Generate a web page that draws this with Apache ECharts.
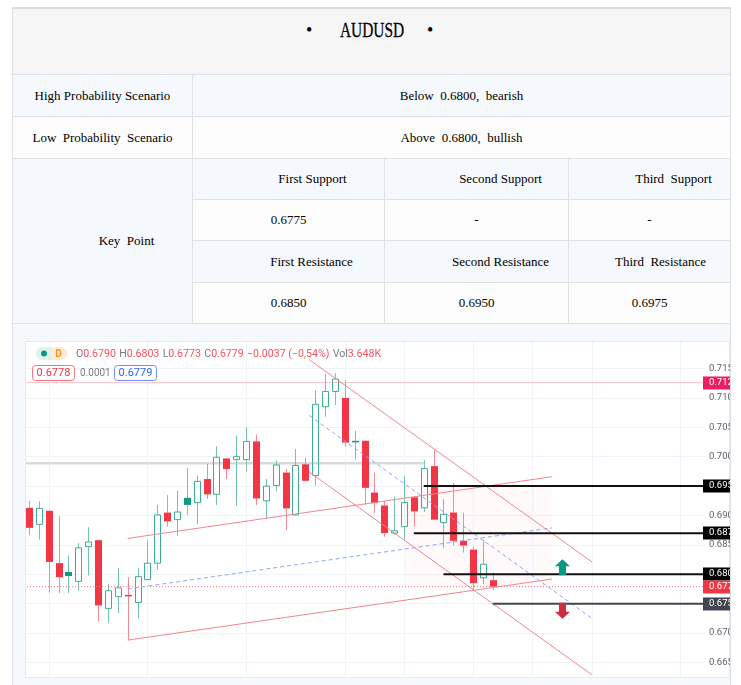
<!DOCTYPE html>
<html><head><meta charset="utf-8">
<script src="https://cdn.jsdelivr.net/npm/echarts@6.0.0/dist/echarts.min.js"></script>
<style>
html,body{margin:0;padding:0}
body{width:741px;height:685px;overflow:hidden;position:relative;background:#fff;font-family:'Liberation Serif','Times New Roman',serif;color:#000}
.cell{position:absolute;box-sizing:border-box;display:flex;align-items:center;justify-content:center;font-size:13px;white-space:pre;border-right:1px solid #dde1e6;border-bottom:1px solid #dde1e6}
.b{background:#f5f8fc}
.w{background:#fcfcfc}
</style></head><body>
<div style="position:absolute;left:12px;top:7px;width:719px;height:678px;border-top:2px solid #dcdcdc;border-left:1px solid #dde1e6;box-sizing:border-box"></div>
<div class="cell" style="left:13px;top:9px;width:718px;height:66px;background:#f6f6f6"></div>
<div style="position:absolute;left:306px;top:16px;font-size:18px;line-height:28px">•</div>
<div style="position:absolute;left:427px;top:16px;font-size:18px;line-height:28px">•</div>
<div style="position:absolute;left:272px;top:15px;width:200px;text-align:center;font-size:22px;line-height:30px;transform:scaleX(0.7);transform-origin:50% 50%;-webkit-text-stroke:0.3px #000">AUDUSD</div>

<div class="cell b" style="left:13px;top:75px;width:180px;height:42px">High Probability Scenario</div>
<div class="cell b" style="left:193px;top:75px;width:538px;height:42px">Below  0.6800,  bearish</div>
<div class="cell w" style="left:13px;top:117px;width:180px;height:42px">Low  Probability  Scenario</div>
<div class="cell w" style="left:193px;top:117px;width:538px;height:42px">Above  0.6800,  bullish</div>
<div class="cell b" style="left:13px;top:159px;width:180px;height:165px;padding-left:48px">Key  Point</div>

<div class="cell b" style="left:193px;top:159px;width:192px;height:41px;padding-left:48px">First Support</div>
<div class="cell b" style="left:385px;top:159px;width:184px;height:41px;padding-left:48px">Second Support</div>
<div class="cell b" style="left:569px;top:159px;width:162px;height:41px;padding-left:48px">Third  Support</div>
<div class="cell w" style="left:193px;top:200px;width:192px;height:41px">0.6775</div>
<div class="cell w" style="left:385px;top:200px;width:184px;height:41px">-</div>
<div class="cell w" style="left:569px;top:200px;width:162px;height:41px">-</div>
<div class="cell b" style="left:193px;top:241px;width:192px;height:42px;padding-left:46px">First Resistance</div>
<div class="cell b" style="left:385px;top:241px;width:184px;height:42px;padding-left:48px">Second Resistance</div>
<div class="cell b" style="left:569px;top:241px;width:162px;height:42px;padding-left:22px">Third  Resistance</div>
<div class="cell w" style="left:193px;top:283px;width:192px;height:41px">0.6850</div>
<div class="cell w" style="left:385px;top:283px;width:184px;height:41px">0.6950</div>
<div class="cell w" style="left:569px;top:283px;width:162px;height:41px">0.6975</div>

<div style="position:absolute;left:13px;top:324px;width:718px;height:361px;background:#f5f8fc;border-right:1px solid #dde1e6;box-sizing:border-box"></div>
<div style="position:absolute;left:25px;top:341px;width:705px;height:337px;background:#fff;border:1px solid #e6e9ef;box-sizing:border-box"></div>
<div style="position:absolute;left:26px;top:342px;width:704px;height:335px;overflow:hidden">
  <div id="chart" style="position:absolute;left:-26px;top:-342px;width:741px;height:700px"></div>
</div>

<script>
// ---- candle data (bar index = position) ----
const opens  = [0.6913,0.6885,0.6908,0.6819,0.6804,0.6788,0.6847,0.6858,0.6742,0.6762,
                0.6765,0.6752,0.6791,0.6819,0.6905,0.6893,0.6930,0.6922,0.6962,0.6936,
                0.6997,0.6995,0.6995,0.7026,0.6925,0.6951,0.6973,0.6901,0.6987,0.6968,
                0.7085,0.7111,0.7100,0.7027,0.7027,0.6939,0.6917,0.6870,0.6881,0.6931,
                0.6913,0.6984,0.6888,0.6905,0.6857,0.6842,0.6794,0.6790];
const highs  = [0.6925,0.6924,0.6909,0.6899,0.6832,0.6853,0.6880,0.6859,0.6784,0.6811,
                0.6795,0.6811,0.6858,0.6918,0.6935,0.6942,0.6981,0.6968,0.6988,0.7018,
                0.6998,0.7036,0.7050,0.7038,0.6962,0.6994,0.6979,0.7013,0.6998,0.7113,
                0.7141,0.7142,0.7130,0.7044,0.7028,0.6973,0.6925,0.6932,0.6967,0.6933,
                0.6994,0.7013,0.6928,0.6956,0.6905,0.6847,0.6858,0.6803];
const lows   = [0.6867,0.6859,0.6769,0.6768,0.6768,0.6772,0.6798,0.6720,0.6717,0.6734,
                0.6688,0.6725,0.6790,0.6808,0.6881,0.6865,0.6901,0.6885,0.6928,0.6918,
                0.6962,0.6916,0.6975,0.6918,0.6894,0.6941,0.6875,0.6900,0.6958,0.6951,
                0.7068,0.7088,0.7017,0.6995,0.6918,0.6904,0.6864,0.6867,0.6859,0.6881,
                0.6906,0.6892,0.6844,0.6849,0.6837,0.6773,0.6783,0.6773];
const closes = [0.6879,0.6912,0.6821,0.6795,0.6797,0.6845,0.6855,0.6747,0.6772,0.6777,
                0.6763,0.6796,0.6819,0.6901,0.6890,0.6906,0.6918,0.6958,0.6936,0.6999,
                0.6979,0.7000,0.7026,0.6929,0.6950,0.6986,0.6912,0.6985,0.6959,0.7089,
                0.7111,0.7132,0.7024,0.7025,0.6947,0.6921,0.6870,0.6874,0.6922,0.6907,
                0.6980,0.6893,0.6902,0.6857,0.6849,0.6785,0.6817,0.6779];

// ---- axis ----
const barSlots = 69;            // bars visible incl. empty future space
const priceMin = 0.660, priceMax = 0.720, priceStep = 0.005;
const dateGridBars = [2, 12, 22, 32, 38, 45, 51, 57, 66];

// ---- drawings (bar index, price) ----
const ascUpper = [[10, 0.6861], [53, 0.6966]];
const ascLower = [[10, 0.6688], [53, 0.6792]];
const ascMid   = [[10, 0.6775], [53, 0.6879]];
const descUpper = [[28.4, 0.7165], [57.05, 0.6821]];
const descLower = [[28.4, 0.6974], [57.05, 0.6629]];
const descMid   = [[28.4, 0.7070], [57.05, 0.6725]];
const grayLevel = 0.6989, grayFrom = -1, grayTo = 40;
const highLevel = 0.7126;
const lastPrice = 0.6779;
const resistanceLevels = [0.6950, 0.6870, 0.6800];
const resistanceFrom   = [40, 39, 42];
const supportLevel = 0.6750, supportFrom = 47;
const zoneBars = [38, 53], zonePrices = [0.6952, 0.6779];
const upArrow = [54.06, 0.6812];
const downArrow = [54.06, 0.6738];

const kinds = closes.map((c, i) => c > opens[i] ? 0 : (i > 0 && c > closes[i - 1] ? 1 : 2));
const candleData = opens.map((o, i) => [i, o, closes[i], lows[i], highs[i], kinds[i]]);

const GREEN = '#3fae90', GREEN_WICK = '#72c4ad', GREEN_FILL = '#0f9b7f';
const RED = '#f23645', RED_WICK = '#f58a94';

function renderCandle(params, api) {
  const i = api.value(0), o = api.value(1), c = api.value(2), l = api.value(3), h = api.value(4), k = api.value(5);
  const pO = api.coord([i, o]), pC = api.coord([i, c]), pL = api.coord([i, l]), pH = api.coord([i, h]);
  const cx = Math.round(pO[0]) + 0.5;
  const bw = Math.round(api.size([1, 0])[0] * 0.7);
  const top = Math.min(pO[1], pC[1]), bot = Math.max(pO[1], pC[1]);
  const wick = k === 2 ? RED_WICK : GREEN_WICK;
  const ch = [
    {type: 'line', shape: {x1: cx, y1: pH[1], x2: cx, y2: top}, style: {stroke: wick, lineWidth: 1}},
    {type: 'line', shape: {x1: cx, y1: bot, x2: cx, y2: pL[1]}, style: {stroke: wick, lineWidth: 1}}
  ];
  if (k === 0) {
    ch.push({type: 'rect', shape: {x: cx - bw / 2 + 0.5, y: top, width: bw - 1, height: Math.max(bot - top, 1)},
      style: {fill: 'rgba(0,0,0,0)', stroke: GREEN, lineWidth: 1}});
  } else {
    const col = k === 1 ? GREEN_FILL : RED;
    ch.push({type: 'rect', shape: {x: cx - bw / 2, y: top, width: bw, height: Math.max(bot - top, 1.5)},
      style: {fill: col}});
  }
  return {type: 'group', children: ch};
}

function seg(pts, color, width, type, z) {
  return {type: 'line', data: pts, symbol: 'none', silent: true, animation: false, clip: true,
    lineStyle: {color: color, width: width, type: type || 'solid'}, z: z || 5};
}

const tagPrices = [highLevel, resistanceLevels[0], resistanceLevels[1], resistanceLevels[2], lastPrice, supportLevel];
const tagColors = ['#e91e63', '#000000', '#000000', '#000000', '#f23645', '#434651'];

const chart = echarts.init(document.getElementById('chart'));
chart.setOption({
  animation: false,
  grid: {left: 24, top: 339.1, width: 681, height: 352.8, containLabel: false, outerBoundsMode: 'none'},
  xAxis: {type: 'value', min: -0.5, max: barSlots - 0.5, show: false},
  yAxis: {type: 'value', position: 'right', min: priceMin, max: priceMax, interval: priceStep, scale: true,
    axisLine: {show: false}, axisTick: {show: false},
    splitLine: {lineStyle: {color: '#f0f3fa', width: 1}},
    axisLabel: {margin: 4, color: '#5d606b', fontSize: 9.5, fontFamily: 'Roboto',
      showMinLabel: false, showMaxLabel: false, formatter: v => v.toFixed(5)}},
  graphic: [
    {type: 'rect', shape: {x: 36, y: 347, width: 31, height: 13, r: 6.5}, style: {fill: '#e1f2ed'}, z: 50},
    {type: 'rect', shape: {x: 51, y: 347, width: 16, height: 13, r: [0, 6.5, 6.5, 0]}, style: {fill: '#fdebd3'}, z: 51},
    {type: 'circle', shape: {cx: 44, cy: 353.5, r: 3}, style: {fill: '#089981'}, z: 52},
    {type: 'text', x: 58.5, y: 354, z: 52, style: {text: 'D', fill: '#f7931a', font: 'bold 10px Roboto', align: 'center', verticalAlign: 'middle'}},
    {type: 'text', x: 76, y: 354, z: 52, style: {
      text: '{g|O}{r|0.6790} {g|H}{r|0.6803} {g|L}{r|0.6773} {g|C}{r|0.6779} {r|\u22120.0037 (\u22120,54%)} {g|Vol}{r|3.648K}',
      verticalAlign: 'middle',
      rich: {g: {fill: '#787b86', fontSize: 10.6, fontFamily: 'Roboto'}, r: {fill: '#f7525f', fontSize: 10.6, fontFamily: 'Roboto'}}}},
    {type: 'rect', shape: {x: 32.5, y: 365.5, width: 42, height: 15, r: 3}, style: {fill: '#fff', stroke: '#f7737d', lineWidth: 1}, z: 50},
    {type: 'text', x: 53.5, y: 373.5, z: 52, style: {text: '0.6778', fill: '#f23645', font: '11px Roboto', align: 'center', verticalAlign: 'middle'}},
    {type: 'text', x: 80, y: 373.5, z: 52, style: {text: '0.0001', fill: '#787b86', font: '10px Roboto', verticalAlign: 'middle'}},
    {type: 'rect', shape: {x: 114.5, y: 365.5, width: 42, height: 15, r: 3}, style: {fill: '#fff', stroke: '#6a8ef7', lineWidth: 1}, z: 50},
    {type: 'text', x: 135.5, y: 373.5, z: 52, style: {text: '0.6779', fill: '#2962ff', font: '11px Roboto', align: 'center', verticalAlign: 'middle'}}
  ],
  series: [
    {type: 'custom', silent: true, z: 1, clip: true, data: dateGridBars.map(b => [b, priceMax]),
      renderItem: (params, api) => {
        const x = Math.round(api.coord([api.value(0), api.value(1)])[0]) + 0.5;
        const cs = params.coordSys;
        return {type: 'line', shape: {x1: x, y1: cs.y, x2: x, y2: cs.y + cs.height}, style: {stroke: '#f0f3fa', lineWidth: 1}};
      }},
    {type: 'line', data: [], silent: true, z: 1,
      markArea: {silent: true, itemStyle: {color: 'rgba(242,54,69,0.03)'},
        data: [[{coord: [zoneBars[0], zonePrices[0]]}, {coord: [zoneBars[1], zonePrices[1]]}]]}},
    seg([[-0.5, highLevel], [barSlots, highLevel]], '#f9c3ca', 1, 'solid', 2),
    seg([[grayFrom, grayLevel], [grayTo, grayLevel]], '#d8d9dc', 2.5, 'solid', 2),
    {type: 'custom', renderItem: renderCandle, data: candleData, z: 3, clip: true, silent: true},
    seg(ascUpper, '#f4848e', 1),
    seg(ascLower, '#f4848e', 1),
    seg(ascMid, '#8ba6f6', 1, [4, 3]),
    seg(descUpper, '#f4848e', 1),
    seg(descLower, '#f4848e', 1),
    seg(descMid, '#8ba6f6', 1, [4, 3]),
    seg([[-0.5, lastPrice], [barSlots, lastPrice]], '#f5727d', 1, [1, 2], 4),
    seg([[resistanceFrom[0], resistanceLevels[0]], [barSlots, resistanceLevels[0]]], '#111', 2, 'solid', 6),
    seg([[resistanceFrom[1], resistanceLevels[1]], [barSlots, resistanceLevels[1]]], '#111', 2, 'solid', 6),
    seg([[resistanceFrom[2], resistanceLevels[2]], [barSlots, resistanceLevels[2]]], '#111', 2, 'solid', 6),
    seg([[supportFrom, supportLevel], [barSlots, supportLevel]], '#434651', 2, 'solid', 6),
    {type: 'scatter', silent: true, z: 7, data: [upArrow], symbolSize: [15, 16],
      symbol: 'path://M7.5,0 L15,7 L11,7 L11,16 L4,16 L4,7 L0,7 Z', itemStyle: {color: '#089981', opacity: 1}},
    {type: 'scatter', silent: true, z: 7, data: [downArrow], symbolSize: [15, 16],
      symbol: 'path://M4,0 L11,0 L11,9 L15,9 L7.5,16 L0,9 L4,9 Z', itemStyle: {color: '#d12c3b', opacity: 1}},
    {type: 'custom', silent: true, z: 20, clip: false, data: tagPrices.map((p, k) => [k, p]),
      renderItem: (params, api) => {
        const p = api.value(1);
        const y = api.coord([0, p])[1];
        return {type: 'group', children: [
          {type: 'rect', shape: {x: 703, y: Math.round(y) - 6.5, width: 40, height: 13}, style: {fill: tagColors[params.dataIndex]}},
          {type: 'text', x: 709, y: Math.round(y), style: {text: p.toFixed(5), fill: '#fff', font: '9.5px Roboto', verticalAlign: 'middle'}}
        ]};
      }}
  ]
});
</script>
</body></html>
